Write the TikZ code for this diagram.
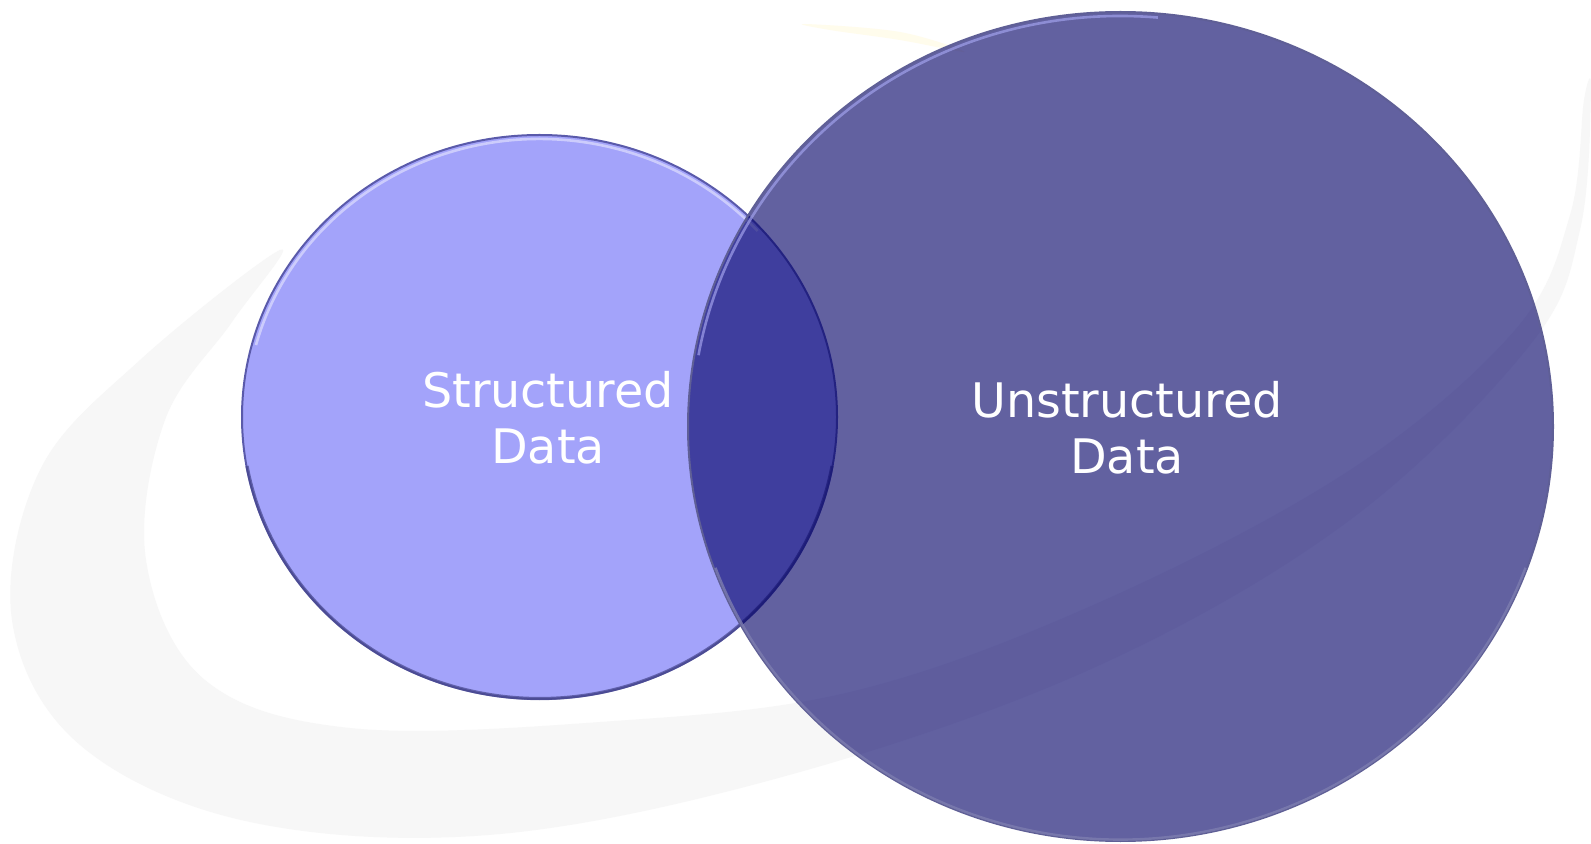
\documentclass[tikz,border=0pt]{standalone}
\usepackage{fontspec}
\setmainfont{DejaVu Sans}
\definecolor{lightc}{RGB}{163,163,250}
\definecolor{navyc}{RGB}{2,0,103}
\definecolor{swooshc}{RGB}{247,247,247}
\definecolor{creamc}{RGB}{255,252,236}
\tikzset{
  lbl/.style={text=white, align=center, inner sep=0pt,
    font=\fontsize{23.8}{28}\selectfont},
  swoosh/.style={fill=swooshc, draw=none},
}
\begin{document}
\begin{tikzpicture}[x=0.5pt,y=-0.5pt]
\useasboundingbox (0,0) rectangle (1591,844);
\fill[white] (0,0) rectangle (1591,844);
% faint background swoosh
\fill[swoosh] plot[smooth cycle, tension=0.6] coordinates {
  (1591,90) (1580,230) (1530,345) (1350,520) (1100,665) (800,772)
  (500,834) (250,822) (80,745) (12,620) (40,470) (140,360) (280,250)
  (232,322) (165,420) (146,560) (205,680) (350,728) (600,722)
  (850,692) (1100,602) (1350,470) (1515,330) (1570,215) (1584,100)};
\fill[creamc] plot[smooth cycle, tension=0.6] coordinates {
  (805,24) (900,32) (965,52) (900,40) (830,30)};
% left (structured) ellipse
\fill[lightc] (539.5,417) ellipse [x radius=297.5, y radius=282];
\draw[white, opacity=0.45, line width=1.3pt]
  (539.5,417) ++(195:293.5 and 278) arc [start angle=195, end angle=318, x radius=293.5, y radius=278];
\draw[color={rgb,255:red,90;green,90;blue,170}, line width=1pt]
  (539.5,417) ellipse [x radius=297.5, y radius=282];
\draw[color={rgb,255:red,70;green,70;blue,140}, line width=1.6pt, opacity=0.7]
  (539.5,417) ++(10:297 and 281.5) arc [start angle=10, end angle=170, x radius=297, y radius=281.5];
% right (unstructured) ellipse, translucent navy
\fill[navyc, fill opacity=0.62] (1120.5,426.5) ellipse [x radius=432.5, y radius=414.5];
\draw[color={rgb,255:red,160;green,160;blue,235}, opacity=0.7, line width=1.3pt]
  (1120.5,426.5) ++(190:428.5 and 410.5) arc [start angle=190, end angle=275, x radius=428.5, y radius=410.5];
\draw[color={rgb,255:red,95;green,95;blue,150}, line width=1pt]
  (1120.5,426.5) ellipse [x radius=432.5, y radius=414.5];
\draw[color={rgb,255:red,125;green,125;blue,175}, line width=1.2pt, opacity=0.8]
  (1120.5,426.5) ++(20:431 and 413) arc [start angle=20, end angle=160, x radius=431, y radius=413];
% labels
\node[lbl] (sd) at (548,418) {Structured\\Data};
\node[lbl] (ud) at (1127,428) {Unstructured\\Data};
\end{tikzpicture}
\end{document}
